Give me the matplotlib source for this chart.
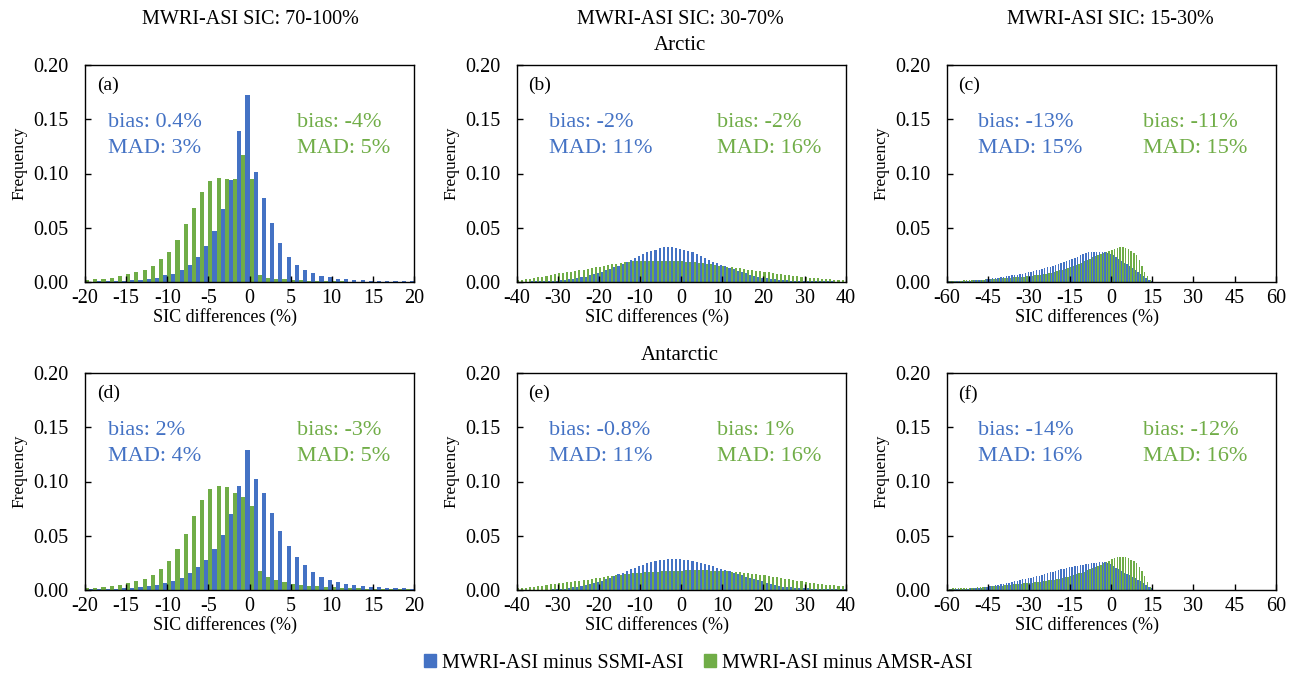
import numpy as np
import matplotlib.pyplot as plt
from matplotlib.patches import Patch

plt.rcParams['font.family'] = ['Liberation Serif', 'DejaVu Serif']
plt.rcParams['axes.unicode_minus'] = False

BLUE = "#4472C4"
GREEN = "#70AD47"

# =====================================================
# data: frequency per 1% bin
# =====================================================

# SIC 70-100%, bins -20..20
bins_high = np.arange(-19.5, 20, 1.0)
# SIC 30-70%, bins -40..40
bins_mid = np.arange(-39.5, 40, 1.0)
# SIC 15-30%, bins -60..15
bins_low = np.arange(-59.5, 15, 1.0)

a_blue = [0.0004, 0.0005, 0.0007, 0.0010, 0.0012, 0.0015, 0.0020, 0.0030, 0.0037, 0.0060,
          0.0078, 0.0110, 0.0160, 0.0226, 0.0330, 0.0470, 0.0670, 0.0940, 0.1390, 0.1720,
          0.1010, 0.0770, 0.0540, 0.0360, 0.0235, 0.0160, 0.0110, 0.0080, 0.0056, 0.0043,
          0.0030, 0.0025, 0.0019, 0.0015, 0.0012, 0.0010, 0.0009, 0.0008, 0.0007, 0.0006]
a_green = [0.0020, 0.0025, 0.0030, 0.0040, 0.0053, 0.0070, 0.0090, 0.0115, 0.0150, 0.0210,
           0.0280, 0.0390, 0.0530, 0.0680, 0.0830, 0.0930, 0.0960, 0.0945, 0.0945, 0.1170,
           0.0950, 0.0065, 0.0040, 0.0030, 0.0025, 0.0020, 0.0015, 0.0012, 0.0010, 0.0008,
           0.0006, 0.0005, 0.0004, 0.0003, 0.0003, 0.0002, 0.0002, 0.0001, 0.0001, 0.0001]

d_blue = [0.0005, 0.0007, 0.0009, 0.0012, 0.0016, 0.0022, 0.0028, 0.0037, 0.0050, 0.0068,
          0.0087, 0.0115, 0.0158, 0.0210, 0.0280, 0.0380, 0.0510, 0.0700, 0.0960, 0.1290,
          0.1020, 0.0890, 0.0710, 0.0545, 0.0405, 0.0300, 0.0230, 0.0170, 0.0124, 0.0093,
          0.0071, 0.0056, 0.0046, 0.0037, 0.0030, 0.0025, 0.0020, 0.0017, 0.0014, 0.0012]
d_green = [0.0016, 0.0022, 0.0028, 0.0037, 0.0050, 0.0062, 0.0080, 0.0105, 0.0142, 0.0195,
           0.0270, 0.0380, 0.0520, 0.0680, 0.0830, 0.0930, 0.0963, 0.0945, 0.0890, 0.0855,
           0.0774, 0.0173, 0.0124, 0.0096, 0.0071, 0.0059, 0.0050, 0.0040, 0.0034, 0.0028,
           0.0024, 0.0020, 0.0017, 0.0014, 0.0012, 0.0010, 0.0009, 0.0008, 0.0007, 0.0006]

b_blue = [0.0003, 0.0003, 0.0004, 0.0005, 0.0005, 0.0006, 0.0007, 0.0008, 0.0010, 0.0012,
          0.0015, 0.0020, 0.0025, 0.0031, 0.0038, 0.0044, 0.0050, 0.0060, 0.0070, 0.0082,
          0.0094, 0.0108, 0.0123, 0.0137, 0.0150, 0.0165, 0.0180, 0.0200, 0.0220, 0.0240,
          0.0258, 0.0273, 0.0286, 0.0298, 0.0310, 0.0318, 0.0321, 0.0320, 0.0315, 0.0305,
          0.0293, 0.0283, 0.0272, 0.0258, 0.0243, 0.0225, 0.0205, 0.0188, 0.0172, 0.0157,
          0.0145, 0.0130, 0.0118, 0.0105, 0.0093, 0.0080, 0.0068, 0.0058, 0.0048, 0.0040,
          0.0034, 0.0028, 0.0024, 0.0019, 0.0016, 0.0014, 0.0012, 0.0011, 0.0010, 0.0009,
          0.0009, 0.0008, 0.0007, 0.0006, 0.0006, 0.0005, 0.0005, 0.0004, 0.0004, 0.0004]
b_green = [0.0019, 0.0022, 0.0025, 0.0030, 0.0038, 0.0043, 0.0050, 0.0057, 0.0066, 0.0073,
           0.0080, 0.0085, 0.0090, 0.0095, 0.0100, 0.0106, 0.0113, 0.0120, 0.0129, 0.0135,
           0.0142, 0.0148, 0.0154, 0.0162, 0.0170, 0.0175, 0.0180, 0.0185, 0.0190, 0.0191,
           0.0192, 0.0193, 0.0194, 0.0195, 0.0195, 0.0195, 0.0195, 0.0195, 0.0194, 0.0193,
           0.0191, 0.0188, 0.0184, 0.0180, 0.0177, 0.0173, 0.0169, 0.0163, 0.0157, 0.0151,
           0.0146, 0.0140, 0.0135, 0.0130, 0.0125, 0.0120, 0.0115, 0.0109, 0.0104, 0.0099,
           0.0093, 0.0088, 0.0082, 0.0077, 0.0071, 0.0066, 0.0061, 0.0057, 0.0053, 0.0049,
           0.0045, 0.0041, 0.0038, 0.0034, 0.0031, 0.0028, 0.0025, 0.0022, 0.0020, 0.0018]

e_blue = [0.0002, 0.0002, 0.0002, 0.0003, 0.0003, 0.0003, 0.0004, 0.0004, 0.0005, 0.0005,
          0.0008, 0.0012, 0.0018, 0.0025, 0.0032, 0.0040, 0.0048, 0.0056, 0.0065, 0.0074,
          0.0087, 0.0100, 0.0115, 0.0130, 0.0145, 0.0160, 0.0175, 0.0190, 0.0205, 0.0220,
          0.0235, 0.0250, 0.0260, 0.0269, 0.0276, 0.0281, 0.0283, 0.0284, 0.0284, 0.0282,
          0.0278, 0.0272, 0.0266, 0.0258, 0.0248, 0.0238, 0.0228, 0.0217, 0.0207, 0.0196,
          0.0185, 0.0171, 0.0157, 0.0146, 0.0136, 0.0123, 0.0110, 0.0100, 0.0090, 0.0079,
          0.0068, 0.0057, 0.0046, 0.0038, 0.0030, 0.0027, 0.0025, 0.0022, 0.0019, 0.0017,
          0.0015, 0.0013, 0.0012, 0.0011, 0.0010, 0.0009, 0.0008, 0.0007, 0.0006, 0.0005]
e_green = [0.0015, 0.0018, 0.0021, 0.0024, 0.0028, 0.0033, 0.0038, 0.0044, 0.0052, 0.0058,
           0.0065, 0.0069, 0.0074, 0.0078, 0.0083, 0.0087, 0.0091, 0.0095, 0.0100, 0.0106,
           0.0113, 0.0120, 0.0127, 0.0132, 0.0137, 0.0141, 0.0145, 0.0149, 0.0153, 0.0157,
           0.0160, 0.0163, 0.0166, 0.0168, 0.0170, 0.0172, 0.0174, 0.0175, 0.0177, 0.0178,
           0.0179, 0.0180, 0.0180, 0.0180, 0.0180, 0.0180, 0.0180, 0.0179, 0.0178, 0.0177,
           0.0175, 0.0173, 0.0170, 0.0167, 0.0164, 0.0160, 0.0155, 0.0150, 0.0145, 0.0140,
           0.0134, 0.0128, 0.0123, 0.0117, 0.0111, 0.0105, 0.0099, 0.0093, 0.0087, 0.0080,
           0.0074, 0.0068, 0.0063, 0.0057, 0.0052, 0.0049, 0.0046, 0.0043, 0.0040, 0.0037]

c_blue = [0.0005, 0.0006, 0.0007, 0.0008, 0.0009, 0.0010, 0.0011, 0.0012, 0.0013, 0.0014,
          0.0016, 0.0018, 0.0020, 0.0023, 0.0026, 0.0030, 0.0033, 0.0036, 0.0040, 0.0044,
          0.0048, 0.0052, 0.0056, 0.0060, 0.0064, 0.0068, 0.0073, 0.0078, 0.0083, 0.0088,
          0.0094, 0.0100, 0.0107, 0.0114, 0.0121, 0.0128, 0.0134, 0.0142, 0.0150, 0.0159,
          0.0168, 0.0178, 0.0188, 0.0197, 0.0206, 0.0215, 0.0225, 0.0235, 0.0245, 0.0256,
          0.0266, 0.0272, 0.0276, 0.0279, 0.0280, 0.0281, 0.0281, 0.0278, 0.0270, 0.0262,
          0.0248, 0.0232, 0.0215, 0.0195, 0.0178, 0.0162, 0.0145, 0.0128, 0.0110, 0.0092,
          0.0075, 0.0057, 0.0040, 0.0022, 0.0010]
c_green = [0.0008, 0.0009, 0.0010, 0.0011, 0.0012, 0.0013, 0.0014, 0.0015, 0.0016, 0.0017,
           0.0018, 0.0019, 0.0021, 0.0022, 0.0024, 0.0025, 0.0027, 0.0029, 0.0031, 0.0033,
           0.0035, 0.0036, 0.0038, 0.0040, 0.0042, 0.0044, 0.0046, 0.0048, 0.0050, 0.0052,
           0.0054, 0.0057, 0.0060, 0.0064, 0.0068, 0.0072, 0.0077, 0.0082, 0.0087, 0.0093,
           0.0100, 0.0107, 0.0114, 0.0121, 0.0128, 0.0136, 0.0145, 0.0155, 0.0166, 0.0177,
           0.0190, 0.0203, 0.0215, 0.0227, 0.0238, 0.0250, 0.0260, 0.0270, 0.0278, 0.0286,
           0.0296, 0.0308, 0.0315, 0.0318, 0.0318, 0.0313, 0.0305, 0.0290, 0.0270, 0.0245,
           0.0205, 0.0150, 0.0095, 0.0052, 0.0020]

f_blue = [0.0004, 0.0005, 0.0006, 0.0007, 0.0008, 0.0009, 0.0010, 0.0012, 0.0014, 0.0016,
          0.0018, 0.0020, 0.0023, 0.0026, 0.0030, 0.0034, 0.0038, 0.0043, 0.0048, 0.0053,
          0.0058, 0.0063, 0.0069, 0.0075, 0.0080, 0.0086, 0.0092, 0.0098, 0.0104, 0.0110,
          0.0115, 0.0121, 0.0127, 0.0133, 0.0140, 0.0147, 0.0154, 0.0162, 0.0170, 0.0178,
          0.0188, 0.0193, 0.0198, 0.0203, 0.0208, 0.0213, 0.0218, 0.0223, 0.0228, 0.0233,
          0.0238, 0.0242, 0.0246, 0.0250, 0.0253, 0.0255, 0.0256, 0.0254, 0.0250, 0.0240,
          0.0222, 0.0205, 0.0190, 0.0175, 0.0160, 0.0147, 0.0134, 0.0120, 0.0108, 0.0096,
          0.0082, 0.0066, 0.0048, 0.0030, 0.0014]
f_green = [0.0012, 0.0013, 0.0014, 0.0015, 0.0016, 0.0017, 0.0018, 0.0019, 0.0020, 0.0021,
           0.0022, 0.0024, 0.0025, 0.0027, 0.0029, 0.0031, 0.0033, 0.0035, 0.0037, 0.0039,
           0.0041, 0.0043, 0.0046, 0.0048, 0.0051, 0.0053, 0.0056, 0.0059, 0.0062, 0.0064,
           0.0066, 0.0069, 0.0072, 0.0075, 0.0078, 0.0081, 0.0084, 0.0088, 0.0092, 0.0096,
           0.0100, 0.0105, 0.0111, 0.0117, 0.0123, 0.0130, 0.0137, 0.0145, 0.0153, 0.0161,
           0.0170, 0.0180, 0.0190, 0.0200, 0.0210, 0.0222, 0.0235, 0.0245, 0.0256, 0.0270,
           0.0287, 0.0298, 0.0304, 0.0306, 0.0305, 0.0300, 0.0292, 0.0280, 0.0266, 0.0245,
           0.0215, 0.0175, 0.0128, 0.0075, 0.0030]

col_titles = ["MWRI-ASI SIC: 70-100%", "MWRI-ASI SIC: 30-70%", "MWRI-ASI SIC: 15-30%"]
labels = ["(a)", "(b)", "(c)", "(d)", "(e)", "(f)"]
bias_blue = ["0.4%", "-2%", "-13%", "2%", "-0.8%", "-14%"]
mad_blue = ["3%", "11%", "15%", "4%", "11%", "16%"]
bias_green = ["-4%", "-2%", "-11%", "-3%", "1%", "-12%"]
mad_green = ["5%", "16%", "15%", "5%", "16%", "16%"]

# =====================================================
# figure
# =====================================================

fig = plt.figure(figsize=(12.96, 6.78), dpi=100)

lefts = [85, 516.7, 946.7]
tops = [65, 373]
W, H = 1296.0, 678.0
aw, ah = 329.0, 217.0

panels = [
    (bins_high, a_blue, a_green, 20, 5),
    (bins_mid, b_blue, b_green, 40, 10),
    (bins_low, c_blue, c_green, 60, 15),
    (bins_high, d_blue, d_green, 20, 5),
    (bins_mid, e_blue, e_green, 40, 10),
    (bins_low, f_blue, f_green, 60, 15),
]
text_x = [(0.07, 0.645), (0.098, 0.608), (0.095, 0.597)]

for i, (xb, yb, yg, lim, step) in enumerate(panels):
    row, col = divmod(i, 3)
    ax = fig.add_axes([lefts[col] / W, 1 - (tops[row] + ah) / H, aw / W, ah / H])
    ax.bar(xb - 0.25, yg, width=0.5, color=GREEN, linewidth=0)
    ax.bar(xb + 0.25, yb, width=0.5, color=BLUE, linewidth=0)
    ax.set_xlim(-lim, lim)
    ax.set_ylim(0, 0.2)
    ax.set_xticks(np.arange(-lim, lim + 1, step))
    ax.set_yticks([0, 0.05, 0.10, 0.15, 0.20])
    ax.set_yticklabels(["0.00", "0.05", "0.10", "0.15", "0.20"])
    ax.tick_params(direction="in", length=4, width=1, labelsize=14.5)
    ax.tick_params(axis="y", pad=12)
    ax.tick_params(axis="x", pad=5)
    for s in ax.spines.values():
        s.set_linewidth(1.0)
    ax.set_xlabel("SIC differences (%)", fontsize=13)
    ax.set_ylabel("Frequency", fontsize=12.5)
    ax.xaxis.set_label_coords(0.425, -0.12)
    ax.yaxis.set_label_coords(-0.175, 0.545)

    ax.text(0.036, 0.905, labels[i], transform=ax.transAxes, fontsize=14,
            va="center", ha="left")
    bx, gx = text_x[col]
    ax.text(bx, 0.735, "bias: " + bias_blue[i], transform=ax.transAxes,
            fontsize=16, color=BLUE, va="center")
    ax.text(bx, 0.615, "MAD: " + mad_blue[i], transform=ax.transAxes,
            fontsize=16, color=BLUE, va="center")
    ax.text(gx, 0.735, "bias: " + bias_green[i], transform=ax.transAxes,
            fontsize=16, color=GREEN, va="center")
    ax.text(gx, 0.615, "MAD: " + mad_green[i], transform=ax.transAxes,
            fontsize=16, color=GREEN, va="center")

# column titles and hemisphere labels
for cx, t in zip([250, 680, 1110], col_titles):
    fig.text(cx / W, 1 - 20 / H, t, ha="center", va="center", fontsize=14.5)
fig.text(680 / W, 1 - 46 / H, "Arctic", ha="center", va="center", fontsize=15)
fig.text(680 / W, 1 - 355 / H, "Antarctic", ha="center", va="center", fontsize=15)

handles = [Patch(color=BLUE, label="MWRI-ASI minus SSMI-ASI"),
           Patch(color=GREEN, label="MWRI-ASI minus AMSR-ASI")]
fig.legend(handles=handles, loc="center", bbox_to_anchor=(698 / W, 1 - 663 / H),
           ncol=2, frameon=False, fontsize=14.5, handlelength=0.6, handleheight=0.6,
           columnspacing=1.0, handletextpad=0.3)

plt.savefig("out.png", dpi=100)
